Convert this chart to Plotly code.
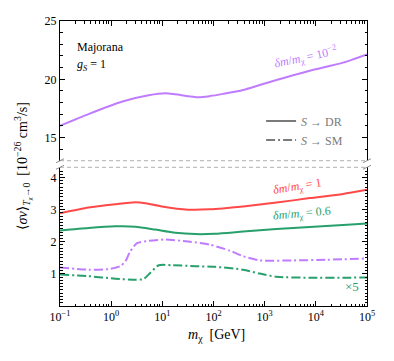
import plotly.graph_objects as go

# ---------------- data ----------------
# S -> DR, delta m / m_chi = 1e-2 (top panel)
m_dr_p = [0.1, 0.36, 1.6, 5.4, 11.5, 18, 51, 85, 155, 380, 1700, 7600, 34000, 100000]
sv_dr_p = [16.02, 17.02, 18.08, 18.63, 18.80, 18.71, 18.46, 18.56, 18.75, 19.08, 19.94, 20.74, 21.43, 22.14]

# S -> DR, delta m / m_chi = 1
m_dr_r = [0.1, 0.36, 1.2, 3.0, 4.7, 9.8, 32, 85, 380, 1700, 7600, 34000, 100000]
sv_dr_r = [2.89, 3.07, 3.17, 3.23, 3.20, 3.10, 3.00, 3.01, 3.10, 3.22, 3.36, 3.49, 3.62]

# S -> DR, delta m / m_chi = 0.6
m_dr_g = [0.1, 0.36, 1.2, 3.0, 7.2, 18, 44, 107, 380, 1700, 7600, 34000, 100000]
sv_dr_g = [2.35, 2.43, 2.48, 2.47, 2.38, 2.28, 2.24, 2.25, 2.32, 2.40, 2.46, 2.52, 2.57]

# S -> SM, delta m / m_chi = 1e-2
m_sm_p = [0.1, 0.36, 0.89, 1.5, 1.9, 2.35, 3.2, 5.4, 11.5, 32, 85, 210, 380, 800, 3500, 16000, 100000]
sv_sm_p = [1.20, 1.13, 1.15, 1.24, 1.39, 1.70, 1.96, 2.03, 2.07, 2.01, 1.91, 1.72, 1.55, 1.42, 1.42, 1.44, 1.48]

# S -> SM, delta m / m_chi = 0.6 (x5)
m_sm_g = [0.1, 0.36, 1.2, 3.0, 4.3, 5.8, 8.5, 15.5, 44, 107, 380, 800, 1700, 7600, 34000, 100000]
sv_sm_g = [0.98, 0.93, 0.85, 0.82, 0.84, 1.03, 1.27, 1.27, 1.24, 1.22, 1.13, 1.01, 0.91, 0.88, 0.88, 0.89]

x_tickvals = [0.1, 1, 10, 100, 1000, 10000, 100000]
x_ticktext = ["10<sup>−1</sup>", "10<sup>0</sup>", "10<sup>1</sup>", "10<sup>2</sup>",
              "10<sup>3</sup>", "10<sup>4</sup>", "10<sup>5</sup>"]
x_minor = [k * 10.0 ** e for e in range(-1, 5) for k in range(2, 10)]
top_ticks = [15, 20, 25]
bot_ticks = [1, 2, 3, 4]

PURPLE = "#c07cff"
RED = "#ff4848"
GREEN = "#27a06b"
GREY = "#7a7a7a"
FONT = "Liberation Serif, DejaVu Serif, serif"
DASHDOT = "9px,3px,2px,3px"

fig = go.Figure()

def add(x, y, color, dash, xa, ya):
    fig.add_trace(go.Scatter(x=x, y=y, mode="lines", xaxis=xa, yaxis=ya,
                             line=dict(color=color, width=2, dash=dash,
                                       shape="spline", smoothing=0.6),
                             showlegend=False, hoverinfo="skip"))

add(m_dr_p, sv_dr_p, PURPLE, "solid", "x2", "y2")
add(m_dr_r, sv_dr_r, RED, "solid", "x", "y")
add(m_dr_g, sv_dr_g, GREEN, "solid", "x", "y")
add(m_sm_p, sv_sm_p, PURPLE, DASHDOT, "x", "y")
add(m_sm_g, sv_sm_g, GREEN, DASHDOT, "x", "y")

# legend entries
fig.add_trace(go.Scatter(x=[None], y=[None], mode="lines", xaxis="x2", yaxis="y2",
                         line=dict(color=GREY, width=2), name="<i>S</i> → DR"))
fig.add_trace(go.Scatter(x=[None], y=[None], mode="lines", xaxis="x2", yaxis="y2",
                         line=dict(color=GREY, width=2, dash=DASHDOT), name="<i>S</i> → SM"))

TOP_LO = 0.5098
BOT_HI = 0.4867

common_x = dict(type="log", range=[-1, 5], showline=True, linecolor="black", linewidth=1,
                ticks="inside", ticklen=5, tickcolor="black", showgrid=False, zeroline=False,
                tickvals=x_tickvals,
                minor=dict(ticks="inside", ticklen=2.5, tickcolor="black", tickvals=x_minor))
fig.update_layout(
    width=394, height=361,
    margin=dict(l=60, r=27, t=21, b=55),
    paper_bgcolor="white", plot_bgcolor="white",
    font=dict(family=FONT, size=11, color="black"),
    xaxis=dict(**common_x, anchor="y", side="bottom", ticktext=x_ticktext,
               tickfont=dict(size=12), domain=[0, 1]),
    xaxis2=dict(**common_x, anchor="y2", side="top", showticklabels=False,
                matches="x", domain=[0, 1]),
    yaxis=dict(domain=[0, BOT_HI], range=[0, 4.32], anchor="x", showline=True,
               linecolor="black", linewidth=1, mirror="ticks", ticks="inside", ticklen=5,
               tickcolor="black", tickvals=bot_ticks, showgrid=False, zeroline=False,
               tickfont=dict(size=12),
               minor=dict(ticks="inside", ticklen=2.5, dtick=0.1, tick0=0, tickcolor="black")),
    yaxis2=dict(domain=[TOP_LO, 1], range=[13.02, 25], anchor="x2", showline=True,
                linecolor="black", linewidth=1, mirror="ticks", ticks="inside", ticklen=5,
                tickcolor="black", tickvals=top_ticks, showgrid=False, zeroline=False,
                tickfont=dict(size=12),
                minor=dict(ticks="inside", ticklen=2.5, dtick=1, tick0=0, tickcolor="black")),
    legend=dict(x=0.655, y=0.70, xanchor="left", yanchor="top", bgcolor="rgba(0,0,0,0)",
                font=dict(family=FONT, size=12, color=GREY), tracegroupgap=0),
    showlegend=True,
)

# broken-axis dashed edges
for yy in (TOP_LO, BOT_HI):
    fig.add_shape(type="line", xref="paper", yref="paper", x0=0, x1=1, y0=yy, y1=yy,
                  line=dict(color="#b0b0b0", width=1, dash="4px,3px"))
    for xx in (0, 1):
        fig.add_shape(type="line", xref="paper", yref="paper",
                      xsizemode="pixel", xanchor=xx, x0=-4, x1=4,
                      ysizemode="pixel", yanchor=yy, y0=-2, y1=2,
                      line=dict(color="#909090", width=1))

ann = [
    dict(text="Majorana", xref="paper", yref="paper", x=0.05, y=0.91, xanchor="left",
         font=dict(size=12)),
    dict(text="<i>g<sub>S</sub></i> = 1", xref="paper", yref="paper", x=0.05, y=0.846,
         xanchor="left", font=dict(size=12)),
    dict(text="<i>δm</i>/<i>m</i><sub>χ</sub> = 10<sup>−2</sup>", xref="x2", yref="y2",
         x=3.80, y=21.83, textangle=-12, font=dict(size=12, color=PURPLE)),
    dict(text="<i>δm</i>/<i>m</i><sub>χ</sub> = 1", xref="x", yref="y",
         x=3.64, y=3.71, textangle=-9, font=dict(size=12, color=RED)),
    dict(text="<i>δm</i>/<i>m</i><sub>χ</sub> = 0.6", xref="x", yref="y",
         x=3.72, y=2.86, textangle=-5, font=dict(size=12, color=GREEN)),
    dict(text="×5", xref="x", yref="y", x=4.71, y=0.62, font=dict(size=13, color=GREEN)),
    dict(text="<i>m</i><sub>χ</sub>  [GeV]", xref="paper", yref="paper", x=0.51, y=-0.102,
         font=dict(size=14)),
    dict(text="⟨<i>σv</i>⟩<sub><i>T</i><sub>χ</sub>→0</sub>  [10<sup>−26</sup> cm<sup>3</sup>/s]",
         xref="paper", yref="paper", x=-0.122, y=0.49, textangle=-90, font=dict(size=14)),
]
for a in ann:
    a.setdefault("showarrow", False)
    a.setdefault("xanchor", "center")
    a.setdefault("yanchor", "middle")
    fig.add_annotation(**a)

fig.write_html("out.html", config={"displayModeBar": False},
               post_script="document.body.style.margin='0px';document.body.style.padding='0px';")
